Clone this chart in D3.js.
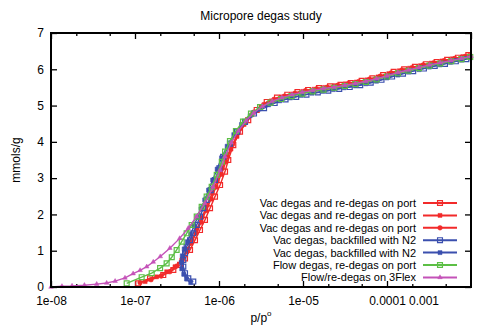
<!DOCTYPE html>
<html>
<head>
<meta charset="utf-8">
<script src="https://cdn.jsdelivr.net/npm/d3@7"></script>
<style>
  body { margin: 0; background: #fff; }
  text { font-family: "Liberation Sans", Arial, sans-serif; fill: #000; }
</style>
</head>
<body>
<div id="chart"></div>
<script>
// data: [p/p0, mmols/g]
var redVac1 = [[1.09e-7,0.1],[1.51e-7,0.24],[2.17e-7,0.33],[2.86e-7,0.47],[3.44e-7,0.61],[3.94e-7,0.79],[4.52e-7,1.02],
  [5.18e-7,1.29],[5.94e-7,1.57],[6.81e-7,1.85],[7.82e-7,2.17],[8.96e-7,2.49],[1.03e-6,2.81],[1.18e-6,3.18],[1.29e-6,3.5],
  [1.48e-6,3.91],[1.78e-6,4.28],[2.23e-6,4.6],[2.81e-6,4.88],[3.7e-6,5.1],[4.9e-6,5.22],[6.5e-6,5.3],[8.6e-6,5.37],
  [1.15e-5,5.43],[1.55e-5,5.48],[2.1e-5,5.53],[2.8e-5,5.57],[3.7e-5,5.62],[5.0e-5,5.68],[6.7e-5,5.75],[9.0e-5,5.84],
  [1.2e-4,5.93],[1.6e-4,6.0],[2.15e-4,6.07],[2.9e-4,6.14],[3.9e-4,6.2],[5.2e-4,6.26],[7.0e-4,6.32],[9.3e-4,6.39]];
var redVac2 = [[1.32e-7,0.15],[1.81e-7,0.28],[2.38e-7,0.42],[2.99e-7,0.56],[3.6e-7,0.74],[4.12e-7,0.97],[4.64e-7,1.2],
  [5.32e-7,1.48],[6.11e-7,1.78],[7.0e-7,2.1],[8.03e-7,2.42],[9.2e-7,2.75],[1.06e-6,3.1],[1.21e-6,3.45],[1.39e-6,3.8],
  [1.64e-6,4.15],[1.99e-6,4.48],[2.47e-6,4.75],[3.16e-6,4.97],[4.2e-6,5.13],[5.6e-6,5.24],[7.5e-6,5.32],[1.0e-5,5.39],
  [1.35e-5,5.45],[1.8e-5,5.5],[2.4e-5,5.55],[3.2e-5,5.6],[4.3e-5,5.65],[5.8e-5,5.71],[7.8e-5,5.79],[1.05e-4,5.88],
  [1.4e-4,5.96],[1.85e-4,6.03],[2.5e-4,6.1],[3.35e-4,6.17],[4.5e-4,6.23],[6.0e-4,6.29],[8.0e-4,6.35],[9.7e-4,6.38]];
var redVac3 = [[1.15e-7,0.12],[1.55e-7,0.2],[2.05e-7,0.3],[2.6e-7,0.42],[3.15e-7,0.58],[3.7e-7,0.8],[4.2e-7,1.03],
  [4.75e-7,1.3],[5.45e-7,1.6],[6.3e-7,1.92],[7.2e-7,2.25],[8.3e-7,2.58],[9.5e-7,2.92],[1.09e-6,3.27],[1.25e-6,3.6],
  [1.45e-6,3.93],[1.7e-6,4.25],[2.1e-6,4.56],[2.6e-6,4.82],[3.4e-6,5.03],[4.5e-6,5.17],[6.0e-6,5.26],[8.0e-6,5.34],
  [1.07e-5,5.41],[1.45e-5,5.46],[1.95e-5,5.51],[2.6e-5,5.56],[3.5e-5,5.61],[4.6e-5,5.66],[6.2e-5,5.73],[8.3e-5,5.81],
  [1.12e-4,5.9],[1.5e-4,5.98],[2.0e-4,6.05],[2.7e-4,6.12],[3.6e-4,6.18],[4.8e-4,6.24],[6.4e-4,6.3],[8.6e-4,6.36]];
var blueN2a = [[4.94e-7,0.15],[4.31e-7,0.24],[3.94e-7,0.38],[3.76e-7,0.56],[3.76e-7,0.74],[3.94e-7,0.93],[4.12e-7,1.11],
  [4.52e-7,1.29],[4.94e-7,1.48],[5.43e-7,1.71],[5.94e-7,1.94],[6.5e-7,2.17],[7.13e-7,2.4],[7.96e-7,2.67],[8.96e-7,2.95],
  [1.01e-6,3.27],[1.12e-6,3.59],[1.35e-6,3.95],[1.64e-6,4.28],[2.04e-6,4.55],[2.61e-6,4.78],[3.44e-6,4.93],[4.6e-6,5.07],
  [6.2e-6,5.17],[8.3e-6,5.24],[1.1e-5,5.3],[1.5e-5,5.36],[2.0e-5,5.41],[2.7e-5,5.46],[3.6e-5,5.51],[4.8e-5,5.56],
  [6.4e-5,5.63],[8.6e-5,5.71],[1.15e-4,5.8],[1.55e-4,5.88],[2.05e-4,5.95],[2.75e-4,6.02],[3.7e-4,6.09],[4.9e-4,6.15],
  [6.6e-4,6.22],[8.8e-4,6.28]];
var blueN2b = [[4.6e-7,0.12],[4.1e-7,0.22],[3.8e-7,0.35],[3.6e-7,0.5],[3.55e-7,0.68],[3.65e-7,0.86],[3.85e-7,1.05],
  [4.2e-7,1.25],[4.6e-7,1.45],[5.05e-7,1.68],[5.55e-7,1.92],[6.1e-7,2.15],[6.75e-7,2.4],[7.5e-7,2.67],[8.4e-7,2.95],
  [9.5e-7,3.25],[1.07e-6,3.56],[1.25e-6,3.88],[1.5e-6,4.2],[1.85e-6,4.48],[2.35e-6,4.72],[3.0e-6,4.9],[3.9e-6,5.02],
  [5.3e-6,5.13],[7.1e-6,5.21],[9.5e-6,5.28],[1.28e-5,5.34],[1.72e-5,5.39],[2.3e-5,5.44],[3.1e-5,5.49],[4.2e-5,5.54],
  [5.6e-5,5.6],[7.5e-5,5.67],[1.0e-4,5.76],[1.35e-4,5.84],[1.8e-4,5.92],[2.4e-4,5.99],[3.2e-4,6.06],[4.3e-4,6.12],
  [5.7e-4,6.19],[7.7e-4,6.25],[9.8e-4,6.31]];
var greenFlow = [[7.96e-8,0.1],[1.2e-7,0.27],[1.58e-7,0.38],[1.99e-7,0.52],[2.38e-7,0.65],[2.74e-7,0.82],[3.13e-7,1.02],
  [3.6e-7,1.25],[4.12e-7,1.48],[4.73e-7,1.71],[5.43e-7,1.94],[6.22e-7,2.21],[7.13e-7,2.49],[8.18e-7,2.76],[9.4e-7,3.09],
  [1.08e-6,3.45],[1.18e-6,3.73],[1.35e-6,4.02],[1.59e-6,4.3],[1.93e-6,4.56],[2.4e-6,4.78],[3.08e-6,4.96],[4.1e-6,5.08],
  [5.5e-6,5.18],[7.3e-6,5.26],[9.8e-6,5.33],[1.3e-5,5.39],[1.75e-5,5.44],[2.35e-5,5.49],[3.15e-5,5.54],[4.2e-5,5.59],
  [5.6e-5,5.65],[7.5e-5,5.72],[1.0e-4,5.8],[1.35e-4,5.89],[1.8e-4,5.96],[2.4e-4,6.03],[3.2e-4,6.1],[4.3e-4,6.16],
  [5.8e-4,6.22],[7.7e-4,6.28],[9.8e-4,6.34]];
var magenta3Flex = [[1.0e-8,0.0],[1.35e-8,0.02],[1.78e-8,0.03],[2.5e-8,0.05],[3.5e-8,0.08],[4.6e-8,0.11],[5.8e-8,0.16],
  [7.6e-8,0.25],[9.5e-8,0.37],[1.15e-7,0.46],[1.38e-7,0.56],[1.65e-7,0.69],[2.0e-7,0.84],[2.6e-7,1.07],[3.4e-7,1.34],
  [4.3e-7,1.62],[5.4e-7,1.94],[6.8e-7,2.31],[8.5e-7,2.76],[1.03e-6,3.22],[1.18e-6,3.59],[1.4e-6,3.98],[1.7e-6,4.3],
  [2.1e-6,4.58],[2.6e-6,4.8],[3.3e-6,4.98],[4.3e-6,5.12],[5.6e-6,5.22],[7.4e-6,5.3],[9.8e-6,5.37],[1.3e-5,5.42],
  [1.75e-5,5.47],[2.35e-5,5.51],[3.15e-5,5.56],[4.2e-5,5.61],[5.6e-5,5.67],[7.5e-5,5.74],[1.0e-4,5.82],[1.35e-4,5.91],
  [1.8e-4,5.98],[2.4e-4,6.05],[3.2e-4,6.12],[4.3e-4,6.18],[5.8e-4,6.24],[7.7e-4,6.3],[1.0e-3,6.36]];

var seriesNames = ["Vac degas and re-degas on port", "Vac degas and re-degas on port", "Vac degas and re-degas on port",
  "Vac degas, backfilled with N2", "Vac degas, backfilled with N2", "Flow degas, re-degas on port", "Flow/re-degas on 3Flex"];
var seriesData = [redVac1, redVac2, redVac3, blueN2a, blueN2b, greenFlow, magenta3Flex];
var seriesColors = ["#f22a2a", "#f22a2a", "#f22a2a", "#3b4fae", "#3b4fae", "#5cbf45", "#c452b8"];
var seriesMarks = ["openSquare", "fillSquare", "fillCircle", "openSquare", "fillSquare", "openSquare", "triangle"];

var xMajor = [1e-8, 1e-7, 1e-6, 1e-5, 1e-4, 1e-3];
var xMinor = [2e-8, 5e-8, 2e-7, 5e-7, 2e-6, 5e-6, 2e-5, 5e-5, 2e-4, 5e-4];
var xLabels = ["1e-08", "1e-07", "1e-06", "1e-05", "0.0001", "0.001"];
var yTicks = [0, 1, 2, 3, 4, 5, 6, 7];

var W = 499, H = 334;
var svg = d3.select("#chart").append("svg").attr("width", W).attr("height", H);

var x = d3.scaleLog().domain([1e-8, 1e-3]).range([51, 471]);
var y = d3.scaleLinear().domain([0, 7]).range([287, 33]);

function markPath(type)
{
  if (type == "triangle") return d3.symbol().type(d3.symbolTriangle).size(9)();
  if (type == "fillCircle") return d3.symbol().type(d3.symbolCircle).size(17)();
  if (type == "fillSquare") return d3.symbol().type(d3.symbolSquare).size(16)();
  return d3.symbol().type(d3.symbolSquare).size(24)();
}

function drawMark(g, type, color, cx, cy)
{
  let open = type == "openSquare";
  g.append("path")
    .attr("d", markPath(type))
    .attr("transform", "translate(" + cx + "," + cy + ")")
    .attr("fill", open ? "none" : color)
    .attr("stroke", color)
    .attr("stroke-width", open ? 1.2 : 0.5);
}

// axes (ticks point inward, gnuplot style)
let fmt = function(d) { return xLabels[xMajor.indexOf(d)]; };
svg.append("g").attr("transform", "translate(0,287)")
  .call(d3.axisBottom(x).tickValues(xMajor.slice(0, 5)).tickFormat(fmt).tickSizeInner(-6).tickSizeOuter(0).tickPadding(9));
svg.append("g").attr("transform", "translate(0,287)")
  .call(d3.axisBottom(x).tickValues(xMinor).tickFormat("").tickSizeInner(-3).tickSizeOuter(0));
svg.append("g").attr("transform", "translate(0,33)")
  .call(d3.axisTop(x).tickValues(xMajor).tickFormat("").tickSizeInner(-6).tickSizeOuter(0));
svg.append("g").attr("transform", "translate(0,33)")
  .call(d3.axisTop(x).tickValues(xMinor).tickFormat("").tickSizeInner(-3).tickSizeOuter(0));
svg.append("g").attr("transform", "translate(51,0)")
  .call(d3.axisLeft(y).tickValues(yTicks).tickFormat(d3.format("d")).tickSizeInner(-6).tickSizeOuter(0).tickPadding(7));
svg.append("g").attr("transform", "translate(471,0)")
  .call(d3.axisRight(y).tickValues(yTicks).tickFormat("").tickSizeInner(-6).tickSizeOuter(0));

// the last label sits right after "0.0001" in the original
svg.append("text")
  .attr("x", x(1e-4) + 22).attr("y", 304.5)
  .attr("font-size", 12)
  .text(xLabels[5]);

svg.selectAll(".domain").remove();
svg.selectAll(".tick line").attr("stroke", "#000").attr("stroke-width", 1.3);
svg.selectAll(".tick text").attr("font-size", 12).attr("fill", "#000")
  .attr("font-family", "'Liberation Sans', Arial, sans-serif");

// series
let line = d3.line().x(d => x(d[0])).y(d => y(d[1]));
seriesData.forEach(function(data, i) {
  let g = svg.append("g");
  g.append("path")
    .attr("d", line(data))
    .attr("fill", "none")
    .attr("stroke", seriesColors[i])
    .attr("stroke-width", 1.4);
  data.forEach(function(d) { drawMark(g, seriesMarks[i], seriesColors[i], x(d[0]), y(d[1])); });
});

// border
svg.append("rect")
  .attr("x", 51).attr("y", 33).attr("width", 420).attr("height", 254)
  .attr("fill", "none").attr("stroke", "#000").attr("stroke-width", 2);

// legend
let leg = svg.append("g");
seriesNames.forEach(function(name, i) {
  let ly = 203 + i * 12.4;
  leg.append("text")
    .attr("x", 416).attr("y", ly + 4)
    .attr("text-anchor", "end")
    .attr("font-size", 11)
    .text(name);
  leg.append("line")
    .attr("x1", 423).attr("x2", 457).attr("y1", ly).attr("y2", ly)
    .attr("stroke", seriesColors[i]).attr("stroke-width", 2);
  drawMark(leg, seriesMarks[i], seriesColors[i], 440, ly);
});

// titles
svg.append("text")
  .attr("x", 261).attr("y", 20)
  .attr("text-anchor", "middle")
  .attr("font-size", 12)
  .text("Micropore degas study");

svg.append("text")
  .attr("transform", "translate(20,160) rotate(-90)")
  .attr("text-anchor", "middle")
  .attr("font-size", 12)
  .text("mmols/g");

let xl = svg.append("text")
  .attr("x", 261).attr("y", 322)
  .attr("text-anchor", "middle")
  .attr("font-size", 12);
xl.append("tspan").text("p/p");
xl.append("tspan").attr("font-size", 8).attr("dy", -6).text("o");
</script>
</body>
</html>
